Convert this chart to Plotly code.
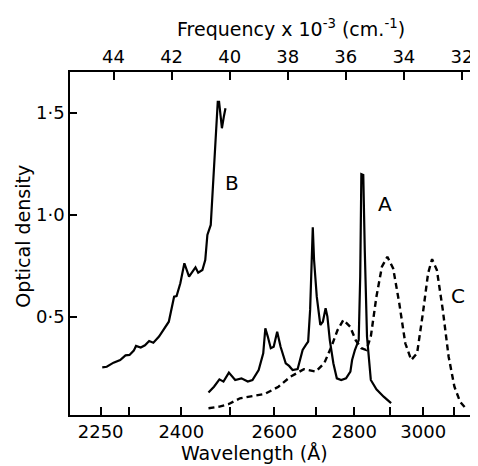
import plotly.graph_objects as go

# Curve B (wavelength in Angstrom, optical density)
B_wl = [2252.8, 2260.7, 2272.7, 2284.6, 2294.2, 2301.5, 2309.3, 2313.4, 2322.1, 2330.0,
        2337.9, 2345.8, 2356.6, 2370.0, 2375.5, 2385.8, 2390.7, 2398.1, 2406.1, 2415.5,
        2428.5, 2434.0, 2442.6, 2448.5, 2452.9, 2459.9, 2465.8, 2470.4, 2474.6, 2477.4,
        2480.4, 2483.4, 2487.5, 2491.0]
B_od = [0.252, 0.255, 0.275, 0.288, 0.311, 0.313, 0.334, 0.357, 0.349, 0.360,
        0.381, 0.373, 0.403, 0.455, 0.476, 0.599, 0.602, 0.665, 0.763, 0.697,
        0.743, 0.717, 0.730, 0.779, 0.902, 0.951, 1.172, 1.401, 1.556, 1.556,
        1.499, 1.426, 1.483, 1.524]

# Curve A
A_wl = [2455.2, 2466.7, 2478.1, 2486.7, 2498.3, 2511.9, 2525.6, 2539.6, 2550.0, 2564.0,
        2574.4, 2579.2, 2584.8, 2591.7, 2598.5, 2606.6, 2614.6, 2626.8, 2634.8, 2643.2,
        2655.4, 2667.6, 2675.6, 2681.2, 2686.1, 2689.5, 2692.7, 2695.9, 2702.7, 2711.6,
        2718.1, 2725.1, 2729.7, 2735.9, 2745.1, 2754.1, 2765.7, 2778.4, 2790.0, 2794.6,
        2802.2, 2812.5, 2816.6, 2819.7, 2825.0, 2829.1, 2835.3, 2845.9, 2861.6, 2882.2,
        2903.6]
A_od = [0.128, 0.157, 0.193, 0.182, 0.226, 0.190, 0.198, 0.182, 0.190, 0.239,
        0.321, 0.444, 0.403, 0.346, 0.353, 0.427, 0.353, 0.272, 0.259, 0.239,
        0.244, 0.337, 0.362, 0.378, 0.534, 0.779, 0.940, 0.779, 0.599, 0.460,
        0.476, 0.542, 0.501, 0.386, 0.272, 0.198, 0.190, 0.198, 0.231, 0.288,
        0.337, 0.386, 0.697, 1.200, 1.196, 0.828, 0.403, 0.190, 0.144, 0.108,
        0.076]

# Curve C (dashed)
C_wl = [2455.2, 2478.1, 2498.3, 2522.3, 2550.0, 2577.7, 2598.5, 2609.6, 2638.1, 2670.6,
        2700.0, 2721.6, 2739.8, 2756.0, 2771.4, 2789.2, 2804.1, 2819.7, 2833.4, 2845.9,
        2861.6, 2877.2, 2892.8, 2909.6, 2927.5, 2945.4, 2963.2, 2981.1, 2998.9, 3015.2,
        3027.7, 3042.9, 3061.9, 3080.9, 3099.9, 3118.9, 3137.9]
C_od = [0.051, 0.059, 0.072, 0.100, 0.111, 0.121, 0.144, 0.157, 0.206, 0.243,
        0.231, 0.272, 0.353, 0.435, 0.485, 0.452, 0.386, 0.346, 0.337, 0.403,
        0.599, 0.746, 0.795, 0.738, 0.567, 0.370, 0.288, 0.321, 0.517, 0.714,
        0.783, 0.730, 0.534, 0.304, 0.157, 0.083, 0.051]

# Axis ticks
wl_ticks = [2250, 2300, 2400, 2500, 2600, 2700, 2800, 2900, 3000, 3100]
wl_labels = ["2250", "", "2400", "", "2600", "", "2800", "", "3000", ""]
freq_ticks = [44, 42, 40, 38, 36, 34, 32]
od_ticks = [0.5, 1.0, 1.5]
od_labels = ["0·5", "1·0", "1·5"]

def to_freq(wl):
    # frequency in units of 10^3 cm^-1
    return [1e5 / w for w in wl]

FONT = "DejaVu Sans"
fig = go.Figure()
fig.add_trace(go.Scatter(x=to_freq(B_wl), y=B_od, mode="lines",
                         line=dict(color="black", width=2.2), showlegend=False))
fig.add_trace(go.Scatter(x=to_freq(A_wl), y=A_od, mode="lines",
                         line=dict(color="black", width=2.2), showlegend=False))
fig.add_trace(go.Scatter(x=to_freq(C_wl), y=C_od, mode="lines",
                         line=dict(color="black", width=2.4, dash="6px,4px"), showlegend=False))
# invisible trace to activate top frequency axis
fig.add_trace(go.Scatter(x=freq_ticks, y=[1.0] * len(freq_ticks), xaxis="x2", mode="markers",
                         marker=dict(opacity=0), showlegend=False, hoverinfo="skip"))

xr = [45.5, 31.55]
tick_common = dict(ticks="inside", ticklen=8, tickwidth=1.5, tickcolor="black",
                   showline=True, linecolor="black", linewidth=1.5,
                   showgrid=False, zeroline=False, tickfont=dict(size=18))
fig.update_layout(
    width=470, height=458,
    margin=dict(l=62, r=1, t=64, b=51),
    paper_bgcolor="white", plot_bgcolor="white",
    font=dict(family=FONT, color="black", size=18),
    xaxis=dict(range=xr, tickvals=to_freq(wl_ticks), ticktext=wl_labels, **tick_common),
    xaxis2=dict(range=xr, overlaying="x", side="top", tickvals=freq_ticks,
                ticktext=[str(t) for t in freq_ticks], **tick_common),
    yaxis=dict(range=[0.018, 1.702], tickvals=od_ticks, ticktext=od_labels, mirror=True,
               **{k: v for k, v in tick_common.items() if k != "ticklen"}, ticklen=7),
    annotations=[
        dict(text="Frequency x 10<sup>-3</sup> (cm.<sup>-1</sup>)", xref="paper", yref="paper",
             x=0.545, y=1.0, yshift=44, xanchor="center", yanchor="middle",
             showarrow=False, font=dict(size=19)),
        dict(text="Wavelength (Å)", xref="paper", yref="paper", x=0.455, y=0.0, yshift=-38,
             xanchor="center", yanchor="middle", showarrow=False, font=dict(size=19)),
        dict(text="Optical density", xref="paper", yref="paper", x=0.0, xshift=-47, y=0.52,
             xanchor="center", yanchor="middle",
             textangle=-90, showarrow=False, font=dict(size=19)),
        dict(text="B", x=1e5 / 2504, y=1.157, xanchor="center", yanchor="middle",
             showarrow=False, font=dict(size=20)),
        dict(text="A", x=1e5 / 2887, y=1.054, xanchor="center", yanchor="middle",
             showarrow=False, font=dict(size=20)),
        dict(text="C", x=1e5 / 3112, y=0.60, xanchor="center", yanchor="middle",
             showarrow=False, font=dict(size=20)),
    ],
)

fig.write_html("out.html")
